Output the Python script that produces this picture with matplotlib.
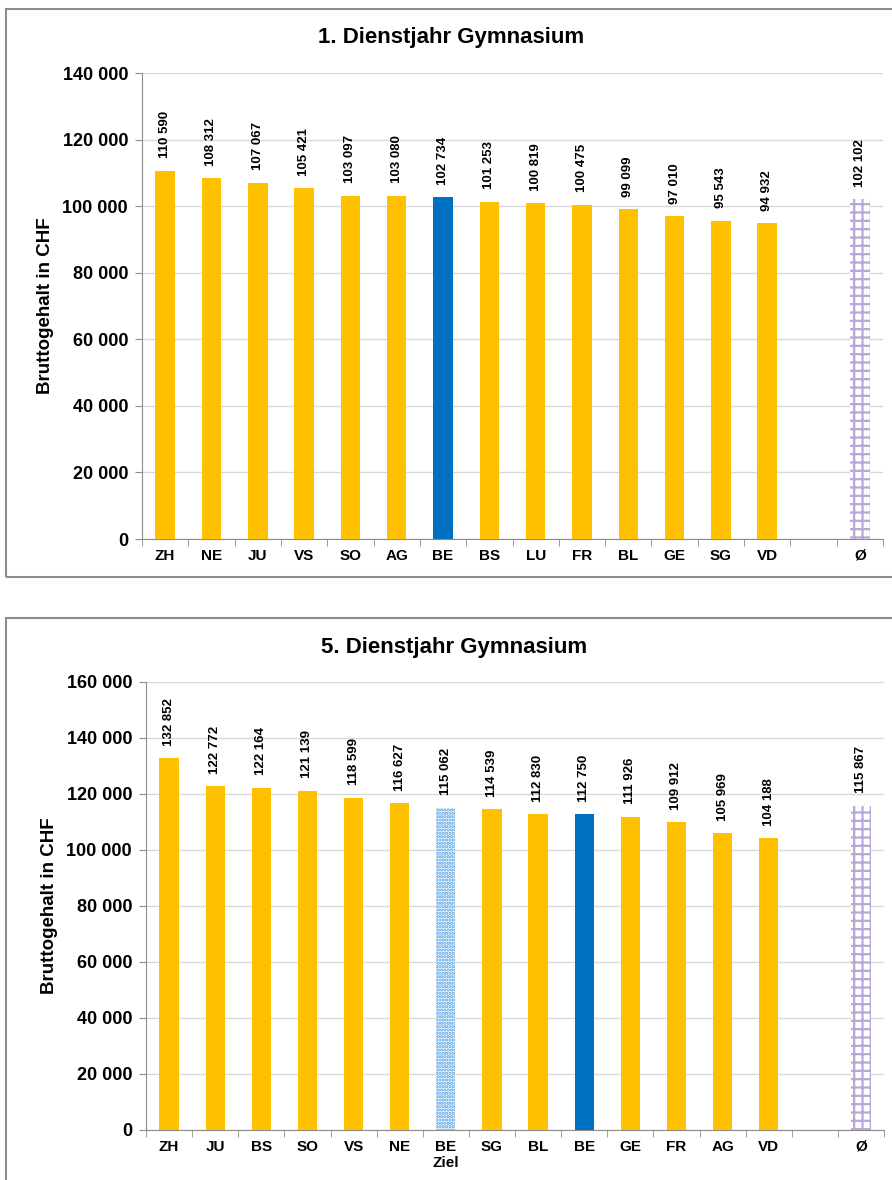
import matplotlib
matplotlib.use("Agg")
from matplotlib import pyplot as plt
from matplotlib.patches import Rectangle
from matplotlib.ticker import FuncFormatter, FixedLocator

plt.rcParams["font.family"] = ["Liberation Sans", "DejaVu Sans"]
plt.rcParams["font.weight"] = "bold"
plt.rcParams["hatch.linewidth"] = 1.6

# 1. Dienstjahr
cantons_1 = ["ZH", "NE", "JU", "VS", "SO", "AG", "BE", "BS", "LU", "FR", "BL", "GE", "SG", "VD"]
salary_1 = [110590, 108312, 107067, 105421, 103097, 103080, 102734, 101253, 100819, 100475,
            99099, 97010, 95543, 94932]
mean_1 = 102102

# 5. Dienstjahr
cantons_5 = ["ZH", "JU", "BS", "SO", "VS", "NE", "BE\nZiel", "SG", "BL", "BE", "GE", "FR", "AG", "VD"]
salary_5 = [132852, 122772, 122164, 121139, 118599, 116627, 115062, 114539, 112830, 112750,
            111926, 109912, 105969, 104188]
mean_5 = 115867

YELLOW = "#FFC000"
BLUE = "#0070C0"
W, H = 892, 1180


def fmt(v, pos=None):
    return "{:,}".format(int(v)).replace(",", " ")


def draw(fig, box, frame, title, cats, vals, mean, ymax, title_xy):
    left, top, right, bottom = box
    ax = fig.add_axes([left / W, 1 - bottom / H, (right - left) / W, (bottom - top) / H])
    fig.patches.append(Rectangle((frame[0] / W, 1 - frame[3] / H), (frame[2] - frame[0]) / W,
                                 (frame[3] - frame[1]) / H, transform=fig.transFigure,
                                 fill=False, edgecolor="#8c8c8c", linewidth=1.5))
    fig.text(title_xy[0] / W, 1 - title_xy[1] / H, title, ha="center", va="center",
             fontsize=16, fontweight="bold")

    labels = cats + ["", "Ø"]
    values = vals + [0, mean]
    x = list(range(len(labels)))
    bw = 0.42
    for i, (lab, v) in enumerate(zip(labels, values)):
        if lab == "":
            continue
        if lab == "Ø":
            ax.bar(i, v, bw, facecolor="white", edgecolor="#b9a6d8", hatch="++", linewidth=0, zorder=3)
        elif lab == "BE\nZiel":
            ax.bar(i, v, bw, facecolor="white", edgecolor="#4a9ae0", hatch=".....", linewidth=0, zorder=3)
        elif lab == "BE":
            ax.bar(i, v, bw, color=BLUE, zorder=3)
        else:
            ax.bar(i, v, bw, color=YELLOW, zorder=3)
        ax.annotate(fmt(v), (i, v), xytext=(0, 9), textcoords="offset points", rotation=90,
                    ha="center", va="bottom", fontsize=9.5, fontweight="bold")

    ax.set_xlim(-0.5, len(labels) - 0.5)
    ax.set_ylim(0, ymax)
    ax.set_yticks(range(0, ymax + 1, 20000))
    ax.yaxis.set_major_formatter(FuncFormatter(fmt))
    ax.set_xticks(x)
    ax.set_xticklabels(labels)
    ax.xaxis.set_minor_locator(FixedLocator([i - 0.5 for i in range(len(labels) + 1)]))
    ax.tick_params(axis="x", which="major", length=0, pad=7, labelsize=11)
    ax.tick_params(axis="x", which="minor", length=5, color="#8c8c8c")
    ax.tick_params(axis="y", length=5, color="#8c8c8c", labelsize=13, pad=5)
    for t in ax.get_xticklabels() + ax.get_yticklabels():
        t.set_fontweight("bold")
    ax.grid(axis="y", color="#d9d9d9", linewidth=1, zorder=0)
    for s in ["top", "right"]:
        ax.spines[s].set_visible(False)
    for s in ["left", "bottom"]:
        ax.spines[s].set_color("#8c8c8c")
    ax.set_ylabel("Bruttogehalt in CHF", fontsize=13.5, fontweight="bold", labelpad=6)
    return ax


fig = plt.figure(figsize=(W / 100, H / 100), dpi=100)
draw(fig, (142, 73, 883, 539), (6, 9, 900, 577), "1. Dienstjahr Gymnasium",
     cantons_1, salary_1, mean_1, 140000, (451, 38))
draw(fig, (146, 682, 884, 1130), (6, 618, 900, 1200), "5. Dienstjahr Gymnasium",
     cantons_5, salary_5, mean_5, 160000, (454, 647))

fig.savefig("out.png", dpi=100)
